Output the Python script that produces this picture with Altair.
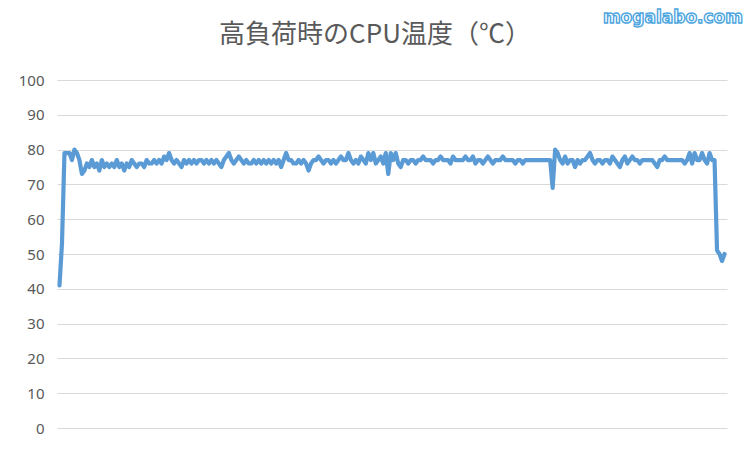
import altair as alt
import pandas as pd

# CPU temperature readings (°C), in order
seg_a = [41, 53, 79, 79, 79, 77, 80, 79, 77, 73, 74, 76, 75, 77, 75, 76, 74, 77, 75, 76, 75]
seg_b = [76, 75, 77, 75, 76, 74, 76, 75, 77, 76, 75, 76, 76, 75, 77, 76, 76, 77, 76, 77,
         76, 78, 77, 79, 77, 76, 77, 76, 75, 77, 76, 77, 76, 77, 76, 77]
seg_c = [77, 76, 77, 76, 77, 76, 77, 76, 75, 77, 78, 79, 77, 76, 77, 78, 77, 76, 77, 76,
         76, 77, 76, 77, 76, 77, 76, 77, 76, 77, 76, 77, 75, 77, 79, 77]
seg_d = [77, 76, 76, 77, 76, 77, 76, 74, 76, 77, 77, 78, 77, 76, 77, 77, 76, 77, 76, 77,
         78, 77, 77, 79, 77, 76, 77, 76, 78, 77, 76, 79, 77, 79, 76, 77]
seg_e = [78, 76, 79, 73, 79, 77, 79, 76, 75, 77, 77, 76, 77, 77, 76, 77, 77, 78, 77, 77,
         77, 76, 77, 77, 78, 77, 77, 77, 76, 78, 77, 77, 77, 77, 78, 77]
seg_f = [77, 78, 76, 77, 77, 76, 77, 78, 77, 76, 77, 77, 77, 78, 77, 77, 77, 77, 76, 77,
         77, 76, 77, 77, 77, 77, 77, 77, 77, 77, 77, 77, 77, 69, 80, 79]
seg_g = [77, 76, 78, 76, 77, 77, 75, 77, 76, 77, 77, 78, 79, 77, 76, 77, 77, 76, 77, 77,
         76, 78, 77, 76, 75, 77, 78, 76, 77, 78, 77, 77, 76, 77, 77, 77]
seg_h = [77, 77, 76, 75, 77, 77, 78, 77, 77, 77, 77, 77, 77, 77, 76, 77, 79, 76, 79, 77,
         77, 79, 77, 76, 79, 77, 77, 51, 50, 48, 50]

y_ticks = [0, 10, 20, 30, 40, 50, 60, 70, 80, 90, 100]
title_text = "高負荷時のCPU温度（℃）"
watermark_text = "mogalabo.com"

temps = seg_a + seg_b + seg_c + seg_d + seg_e + seg_f + seg_g + seg_h
df = pd.DataFrame({"i": list(range(len(temps))), "temp": temps})

W, H = 670, 348

line = alt.Chart(df).mark_line(
    color="#5B9BD5", strokeWidth=4.2, strokeJoin="round", strokeCap="round"
).encode(
    x=alt.X("i:Q", axis=None,
            scale=alt.Scale(domain=[-1, len(temps)], nice=False, zero=False)),
    y=alt.Y("temp:Q", title=None,
            scale=alt.Scale(domain=[0, 100], nice=False),
            axis=alt.Axis(values=y_ticks, domain=False, ticks=False, tickSize=0,
                          labelPadding=13, labelFontSize=15, labelColor="#595959",
                          labelFont="Noto Sans", grid=True, gridColor="#d9d9d9",
                          gridWidth=1)),
)

title_df = pd.DataFrame({"t": [title_text]})
title = alt.Chart(title_df).mark_text(
    align="center", baseline="alphabetic", font="Noto Sans CJK JP",
    fontSize=26, color="#595959"
).encode(text="t:N", x=alt.value(318), y=alt.value(-37))

mark_df = pd.DataFrame({"t": [watermark_text]})
watermark = alt.Chart(mark_df).mark_text(
    align="right", baseline="middle", font="DejaVu Sans", fontWeight="bold",
    fontSize=17, fill="#ffffff", stroke="#4ea6e0", strokeWidth=1.4
).encode(text="t:N", x=alt.value(686), y=alt.value(-62))

chart = alt.layer(line, title, watermark).properties(
    width=W, height=H,
    autosize=alt.AutoSizeParams(type="none"),
    padding={"left": 49, "top": 72, "right": 17, "bottom": 16},
    background="#ffffff",
).configure_view(stroke=None)

chart.save("out.html", embed_options={"renderer": "svg", "actions": False})
